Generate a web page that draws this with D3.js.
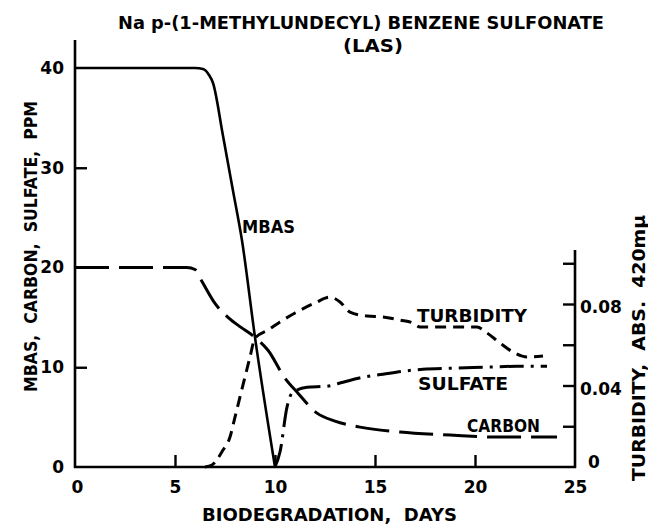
<!DOCTYPE html>
<html>
<head>
<meta charset="utf-8">
<script src="https://cdn.jsdelivr.net/npm/d3@7"></script>
<style>
  html, body { margin: 0; padding: 0; background: #fff; }
  svg { display: block; }
  text { font-family: "DejaVu Sans", sans-serif; font-weight: bold; fill: #000; }
</style>
</head>
<body>
<svg id="chart" width="648" height="525"></svg>
<script>
// ---- data (days, value) ----
const mbasDays   = [0, 3, 6.0, 6.4, 6.7, 6.9, 7.4, 7.9, 8.35, 9.0, 10.0];
const mbasPpm    = [40, 40, 40, 39.9, 39.3, 38.5, 33.2, 27.7, 22.7, 13.0, 0];

const carbonDays = [0, 3, 5.6, 6.0, 6.35, 7.0, 7.65, 8.3, 9.0, 9.65, 10.5, 11.15, 12.1, 13.0, 14.25, 16.25, 18.75, 21.0, 24.1];
const carbonPpm  = [20, 20, 20, 19.8, 18.6, 16.4, 15.0, 14.0, 13.0, 11.7, 8.9, 7.4, 5.4, 4.6, 4.0, 3.5, 3.2, 3.0, 3.0];

const sulfateDays = [10.0, 10.25, 10.6, 10.85, 11.6, 12.6, 13.4, 14.4, 15.4, 16.4, 17.4, 18.75, 20.4, 22.1, 23.6];
const sulfatePpm  = [0, 1.5, 6.0, 7.4, 8.0, 8.1, 8.5, 9.0, 9.3, 9.6, 9.8, 9.9, 10.0, 10.1, 10.1];

const turbDays = [6.5, 6.85, 7.4, 7.75, 8.0, 8.25, 8.5, 8.75, 9.0, 9.65, 10.25, 11.0, 12.0, 12.75, 13.25, 13.75, 14.6, 15.4, 16.25, 16.9, 17.25, 20.1, 20.6, 21.25, 21.9, 22.6, 23.4];
const turbAbs  = [0, 0.001, 0.0083, 0.0147, 0.0245, 0.0344, 0.0442, 0.054, 0.0633, 0.0672, 0.0712, 0.0756, 0.0805, 0.0834, 0.081, 0.076, 0.0741, 0.0736, 0.0721, 0.0707, 0.0687, 0.0687, 0.0658, 0.0609, 0.0564, 0.054, 0.0545];

const xTicks = [0, 5, 10, 15, 20, 25];
const xMinorTicks = [5, 10, 15, 20];
const yLeftTicks = [0, 10, 20, 30, 40];
const yRightTickMarks = [0.02, 0.04, 0.06, 0.08, 0.10];
const yRightTickLabels = [0, 0.04, 0.08];

const titleLine1 = "Na p-(1-METHYLUNDECYL) BENZENE SULFONATE";
const titleLine2 = "(LAS)";
const xTitle = "BIODEGRADATION,  DAYS";
const yLeftTitle = "MBAS,  CARBON,  SULFATE,  PPM";
const yRightTitle = "TURBIDITY,  ABS.  420mμ";

// ---- scales ----
const x = d3.scaleLinear().domain([0, 25]).range([75, 575]);
const yL = d3.scaleLinear().domain([0, 40]).range([467, 68]);
const yR = d3.scaleLinear().domain([0, 0.08]).range([467, 304]);
const leftAxisTop = 42.8;   // data units where the left axis line ends
const rightAxisTop = 0.1065;

const svg = d3.select("#chart");

// ---- axes lines ----
const axisStroke = 2.6;
svg.append("line").attr("x1", x(0)).attr("x2", x(0)).attr("y1", yL(0) + 1).attr("y2", yL(leftAxisTop))
  .attr("stroke", "#000").attr("stroke-width", axisStroke);
svg.append("line").attr("x1", x(0) - 1).attr("x2", x(25) + 1).attr("y1", yL(0)).attr("y2", yL(0))
  .attr("stroke", "#000").attr("stroke-width", axisStroke);
svg.append("line").attr("x1", x(25)).attr("x2", x(25)).attr("y1", yR(0) + 1).attr("y2", yR(rightAxisTop))
  .attr("stroke", "#000").attr("stroke-width", axisStroke);

function styleAxis(g) {
  g.select(".domain").remove();
  g.selectAll("line").attr("stroke", "#000").attr("stroke-width", 2.4);
  g.selectAll("text").attr("font-family", "DejaVu Sans").attr("font-weight", "bold").attr("font-size", 17).attr("fill", "#000");
}

// left ticks (inward) and labels
svg.append("g").attr("transform", `translate(${x(0)},0)`)
  .call(d3.axisRight(yL).tickValues([10, 30]).tickSize(12).tickFormat(""))
  .call(styleAxis);
svg.append("g").attr("transform", `translate(${x(0)},0)`)
  .call(d3.axisLeft(yL).tickValues(yLeftTicks).tickSize(0).tickPadding(11).tickFormat(d3.format("d")))
  .call(styleAxis);

// bottom ticks (inward) and labels
svg.append("g").attr("transform", `translate(0,${yL(0)})`)
  .call(d3.axisTop(x).tickValues(xMinorTicks).tickSize(12).tickFormat(""))
  .call(styleAxis);
svg.append("g").attr("transform", `translate(0,${yL(0)})`)
  .call(d3.axisBottom(x).tickValues(xTicks).tickSize(0).tickPadding(14).tickFormat(d3.format("d")))
  .call(styleAxis)
  .selectAll("text").filter(d => d === 0).attr("x", 2);

// right ticks (inward) and labels
svg.append("g").attr("transform", `translate(${x(25)},0)`)
  .call(d3.axisLeft(yR).tickValues(yRightTickMarks).tickSize(12).tickFormat(""))
  .call(styleAxis);
const rLab = svg.append("g").attr("transform", `translate(${x(25)},0)`)
  .call(d3.axisRight(yR).tickValues(yRightTickLabels).tickSize(0).tickPadding(5)
    .tickFormat(d => d === 0 ? "0" : d3.format(".2f")(d)))
  .call(styleAxis);
rLab.selectAll("text").attr("dy", "0.52em");
rLab.selectAll("text").filter(d => d === 0).attr("x", 13).attr("dy", "0.05em");

// ---- curves ----
const line = (xs, ys, yScale) => d3.line().curve(d3.curveMonotoneX)
  .x((d, i) => x(xs[i])).y((d, i) => yScale(ys[i]))(xs);

svg.append("path").attr("d", line(carbonDays, carbonPpm, yL))
  .attr("fill", "none").attr("stroke", "#000").attr("stroke-width", 3)
  .attr("stroke-dasharray", "34,10");

svg.append("path").attr("d", line(turbDays, turbAbs, yR))
  .attr("fill", "none").attr("stroke", "#000").attr("stroke-width", 3)
  .attr("stroke-dasharray", "11,7");

svg.append("path").attr("d", line(sulfateDays, sulfatePpm, yL))
  .attr("fill", "none").attr("stroke", "#000").attr("stroke-width", 3)
  .attr("stroke-dasharray", "24,7,3,7");

svg.append("path").attr("d", line(mbasDays, mbasPpm, yL))
  .attr("fill", "none").attr("stroke", "#000").attr("stroke-width", 2.6)
  .attr("stroke-linejoin", "round");

// ---- texts ----
function addText(str, xStart, baseline, len, size) {
  return svg.append("text").attr("x", xStart).attr("y", baseline)
    .attr("font-size", size).attr("textLength", len).attr("lengthAdjust", "spacingAndGlyphs")
    .style("white-space", "pre").text(str);
}
addText(titleLine1, 118, 29, 486, 18);
addText(titleLine2, 343, 52, 60, 18);
addText(xTitle, 202, 521, 255, 18);

addText("MBAS", 242, 233, 53, 18);
addText("TURBIDITY", 417, 322, 110, 18);
addText("SULFATE", 418, 390, 90, 18);
addText("CARBON", 467, 432, 73, 18);

// rotated axis titles
svg.append("text").attr("transform", "translate(37,392) rotate(-90)")
  .attr("font-size", 18).attr("textLength", 291).attr("lengthAdjust", "spacingAndGlyphs")
  .style("white-space", "pre").text(yLeftTitle);
svg.append("text").attr("transform", "translate(645,481) rotate(-90)")
  .attr("font-size", 18).attr("textLength", 266).attr("lengthAdjust", "spacingAndGlyphs")
  .style("white-space", "pre").text(yRightTitle);
</script>
</body>
</html>
